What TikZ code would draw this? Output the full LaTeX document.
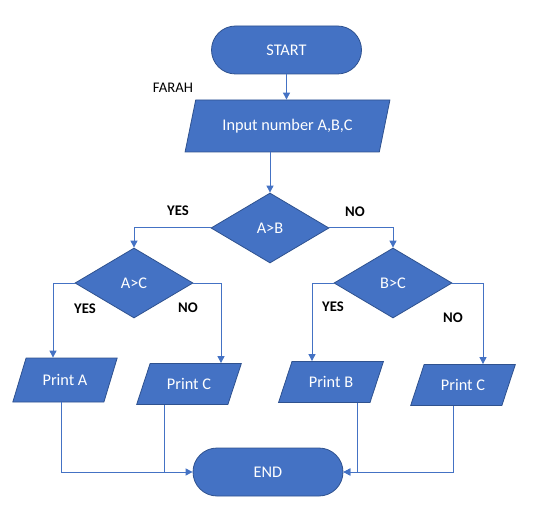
\documentclass[tikz,border=0pt]{standalone}
\usepackage{fontspec}
\setmainfont{Carlito}
\usetikzlibrary{positioning, arrows.meta, shapes.geometric, calc}
\definecolor{boxblue}{HTML}{4472C4}
\definecolor{boxedge}{HTML}{2F528F}

\begin{document}
\begin{tikzpicture}[x=1pt, y=-1pt,
  every node/.style={font=\fontsize{14.7}{17}\selectfont},
  shapetext/.style={font=\fontsize{16.3}{19}\selectfont, text=white},
  terminal/.style={rectangle, rounded corners=24pt, fill=boxblue, draw=boxedge, line width=0.8pt, shapetext, minimum width=150pt, minimum height=48pt},
  io/.style={trapezium, trapezium left angle=64, trapezium right angle=116, trapezium stretches=true, fill=boxblue, draw=boxedge, line width=0.8pt, shapetext, minimum width=105pt, minimum height=44pt},
  decision/.style={diamond, fill=boxblue, draw=boxedge, line width=0.8pt, shapetext, minimum width=118pt, minimum height=70pt, inner sep=0pt},
  answer/.style={font=\fontsize{14.7}{17}\selectfont\bfseries},
  flow/.style={boxblue, line width=1pt, -{Triangle[length=7pt,width=7pt]}}]
  \useasboundingbox (0,0) rectangle (549,513);

  %% Start and input
  \node[terminal] (start) at (286.5,50) {START};
  \node (farah) at (173,88) {FARAH};
  \node[io, trapezium left angle=69, trapezium right angle=111, minimum width=205pt, minimum height=52pt] (input) at (287.5,126) {Input number A,B,C};

  %% Decisions
  \node[decision] (ab) at (270,228) {A>B};
  \node[decision] (ac) at (134,283) {A>C};
  \node[decision] (bc) at (393,283) {B>C};

  %% Outputs
  \node[io] (printa) at (65,380) {Print A};
  \node[io, minimum height=41pt] (printc) at (189,384) {Print C};
  \node[io, minimum height=41pt] (printb) at (331,382) {Print B};
  \node[io, minimum height=41pt] (printcc) at (463,385) {Print C};

  \node[terminal] (end) at (268,472) {END};

  %% Branch labels
  \node[answer] (yesab) at (178,211) {YES};
  \node[answer] (noab) at (355,212) {NO};
  \node[answer] (yesac) at (85,309) {YES};
  \node[answer] (noac) at (188,308) {NO};
  \node[answer] (yesbc) at (333,307) {YES};
  \node[answer] (nobc) at (453,318) {NO};

  %% Connectors
  \draw[flow] (start.south) -- (start.south |- input.north);
  \draw[flow] (ab.north |- input.south) -- (ab.north);
  \draw[flow] (ab.west) -| (ac.north);
  \draw[flow] (ab.east) -| (bc.north);
  \draw[flow] (ac.west) -| ([xshift=-12pt]printa.north);
  \draw[flow] (ac.east) -| ([xshift=32pt]printc.north);
  \draw[flow] (bc.west) -| ([xshift=-19pt]printb.north);
  \draw[flow] (bc.east) -| ([xshift=20pt]printcc.north);

  \draw[flow] ([xshift=-4pt]printa.south) |- (end.west);
  \draw[boxblue, line width=1pt] ([xshift=-25pt]printc.south) -- ([xshift=-25pt]printc.south |- end.west);
  \draw[flow] ([xshift=26pt]printb.south) |- (end.east);
  \draw[flow] ([xshift=-10pt]printcc.south) |- (end.east);
\end{tikzpicture}
\end{document}
